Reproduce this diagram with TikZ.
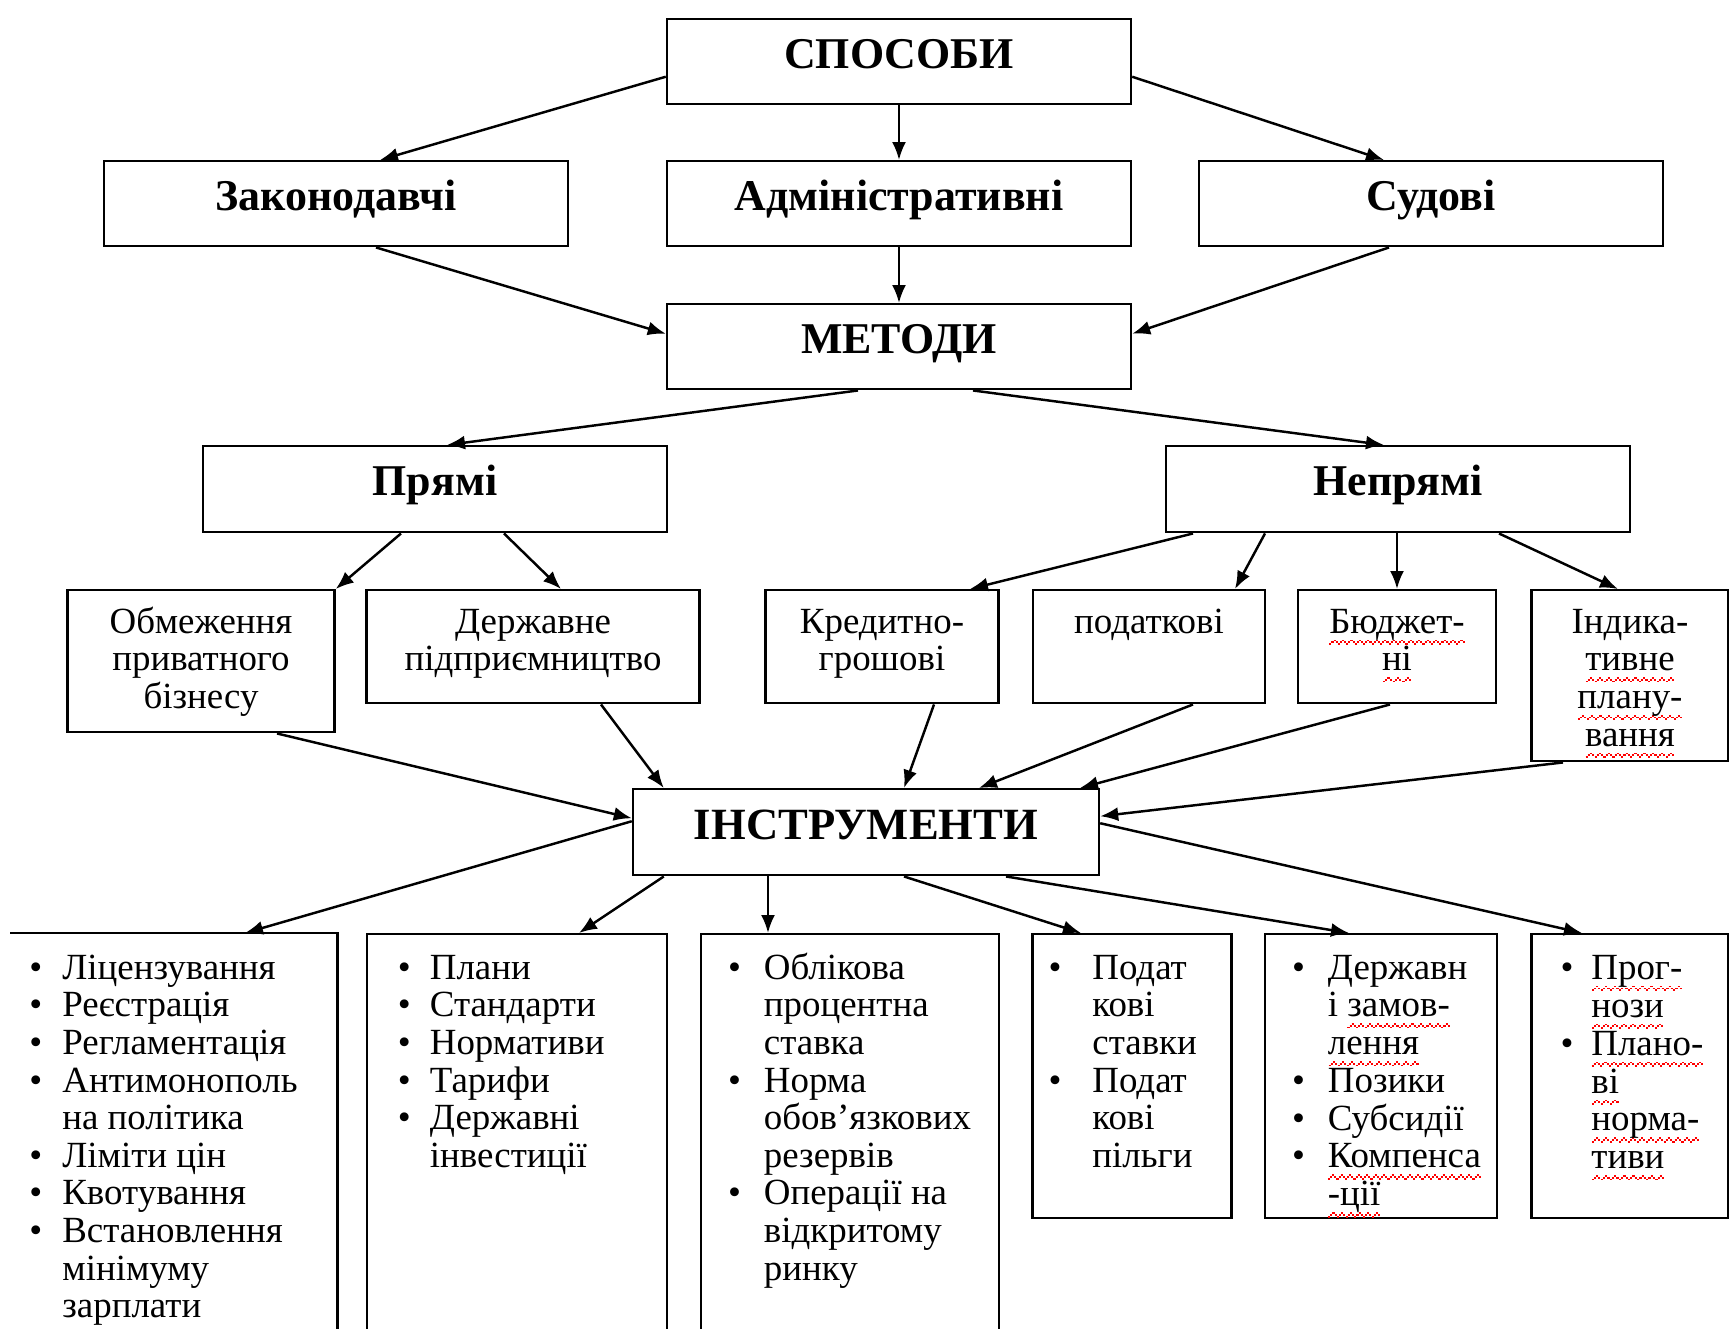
\documentclass[tikz,border=0pt]{standalone}
\usepackage{fontspec}
\setmainfont{Liberation Serif}
\usetikzlibrary{arrows.meta,calc}

\newcommand{\wavebit}{\hbox{%
    \raisebox{-3.3pt}{\rule{0.6pt}{0.45pt}}\raisebox{-2.8pt}{\rule{0.6pt}{0.45pt}}%
    \raisebox{-2.3pt}{\rule{0.6pt}{0.45pt}}\raisebox{-2.8pt}{\rule{0.6pt}{0.45pt}}}}
\newcommand{\spell}[1]{\leavevmode\setbox0\hbox{#1}%
    \rlap{\hbox to \wd0{\color{red}\xleaders\wavebit\hfill}}\box0}
\newcommand{\boxtext}[4]{\parbox[c][#2mm][t]{#1mm}{\centering\rule{0pt}{#3mm}#4}}
\newcommand{\listtext}[5]{\parbox[c][#2mm][t]{#1mm}{\rule{0pt}{4.5mm}\hspace*{#3mm}%
    \begin{tabular}[t]{@{}c@{\hspace{#4mm}}l@{}}#5\end{tabular}}}

\tikzset{x=0.1mm, y=-0.1mm,
    headbox/.style={draw, line width=0.7pt, anchor=north, inner sep=0pt,
        font=\bfseries\fontsize{12.5}{14}\selectfont},
    subbox/.style={draw, line width=0.7pt, anchor=north, inner sep=0pt,
        font=\fontsize{10.5}{10.7}\selectfont},
    arr/.style={line width=0.7pt, -{Latex[length=1.8mm,width=1.4mm]}},
    }

\begin{document}
\begin{tikzpicture}
	\useasboundingbox (0,0) rectangle (1729,1329);
	\clip (0,0) rectangle (1729,1329);
	% ways
	\node[headbox] (sposoby) at (899,18) {\boxtext{46.4}{8.5}{4.9}{СПОСОБИ}};
	\node[headbox] (zakon) at (336,160) {\boxtext{46.4}{8.5}{4.9}{Законодавчі}};
	\node[headbox] (admin) at (899,160) {\boxtext{46.4}{8.5}{4.9}{Адміністративні}};
	\node[headbox] (sud) at (1431,160) {\boxtext{46.4}{8.5}{4.9}{Судові}};
	% methods
	\node[headbox] (metody) at (899,303) {\boxtext{46.4}{8.5}{4.9}{МЕТОДИ}};
	\node[headbox] (pryami) at (435,445) {\boxtext{46.4}{8.6}{4.9}{Прямі}};
	\node[headbox] (nepryami) at (1398,445) {\boxtext{46.4}{8.6}{4.9}{Непрямі}};
	\node[subbox] (obmezh) at (201,589) {\boxtext{26.7}{14.2}{4.3}{Обмеження\\приватного\\бізнесу}};
	\node[subbox] (derzhPidpr) at (533,589) {\boxtext{33.3}{11.3}{4.3}{Державне\\підприємництво}};
	\node[subbox] (kredyt) at (882,589) {\boxtext{23.3}{11.3}{4.3}{Кредитно-\\грошові}};
	\node[subbox] (podatk) at (1149,589) {\boxtext{23.2}{11.3}{4.3}{податкові}};
	\node[subbox] (budzh) at (1397,589) {\boxtext{19.8}{11.3}{4.3}{\spell{Бюджет-}\\\spell{ні}}};
	\node[subbox] (indyk) at (1630,589) {\boxtext{19.7}{17.1}{4.3}{Індика-\\\spell{тивне}\\\spell{плану-}\\\spell{вання}}};
	% tools
	\node[headbox, font=\bfseries\fontsize{12.7}{15}\selectfont] (instr) at (866,788)
		{\boxtext{46.6}{8.6}{5.0}{ІНСТРУМЕНТИ}};
	\node[subbox, draw=none] (list1) at (174,933) {\listtext{32.5}{45}{1.8}{2.0}{%
		\textbullet & Ліцензування\\
		\textbullet & Реєстрація\\
		\textbullet & Регламентація\\
		\textbullet & Антимонополь\\
		            & на політика\\
		\textbullet & Ліміти цін\\
		\textbullet & Квотування\\
		\textbullet & Встановлення\\
		            & мінімуму\\
		            & зарплати}};
	\node[subbox] (list2) at (517,933) {\listtext{30.0}{45}{3.1}{1.9}{%
		\textbullet & Плани\\
		\textbullet & Стандарти\\
		\textbullet & Нормативи\\
		\textbullet & Тарифи\\
		\textbullet & Державні\\
		            & інвестиції}};
	\node[subbox] (list3) at (850,933) {\listtext{29.8}{45}{2.7}{2.3}{%
		\textbullet & Облікова\\
		            & процентна\\
		            & ставка\\
		\textbullet & Норма\\
		            & обов’язкових\\
		            & резервів\\
		\textbullet & Операції на\\
		            & відкритому\\
		            & ринку}};
	\node[subbox] (list4) at (1132,933) {\listtext{19.9}{28.4}{1.6}{3.1}{%
		\textbullet & Подат\\
		            & кові\\
		            & ставки\\
		\textbullet & Подат\\
		            & кові\\
		            & пільги}};
	\node[subbox] (list5) at (1381,933) {\listtext{23.2}{28.4}{2.7}{2.3}{%
		\textbullet & Державн\\
		            & і \spell{замов-}\\
		            & \spell{лення}\\
		\textbullet & Позики\\
		\textbullet & Субсидії\\
		\textbullet & \spell{Компенса}\\
		            & \spell{-ції}}};
	\node[subbox] (list6) at (1630,933) {\listtext{19.7}{28.4}{2.9}{1.8}{%
		\textbullet & \spell{Прог-}\\
		            & \spell{нози}\\
		\textbullet & \spell{Плано-}\\
		            & \spell{ві}\\
		            & \spell{норма-}\\
		            & \spell{тиви}}};
	\draw[line width=0.7pt] (list1.north west) -- (list1.north east) -- (list1.south east);

	\draw[arr] ($(sposoby.west)+(0,15)$) -- ($(zakon.north)+(44,0)$);
	\draw[arr] (sposoby.south) -- (admin.north);
	\draw[arr] ($(sposoby.east)+(0,15)$) -- ($(sud.north)+(-47,0)$);
	\draw[arr] ($(zakon.south)+(40,0)$) -- ($(metody.west)+(0,-13)$);
	\draw[arr] (admin.south) -- (metody.north);
	\draw[arr] ($(sud.south)+(-42,0)$) -- ($(metody.east)+(0,-13)$);
	\draw[arr] ($(metody.south)+(-41,0)$) -- ($(pryami.north)+(12,0)$);
	\draw[arr] ($(metody.south)+(74,0)$) -- ($(nepryami.north)+(-14,0)$);
	\draw[arr] ($(pryami.south)+(-34,0)$) -- (obmezh.north east);
	\draw[arr] ($(pryami.south)+(69,0)$) -- ($(derzhPidpr.north)+(28,0)$);
	\draw[arr] ($(nepryami.south)+(-205,0)$) -- ($(kredyt.north)+(88,0)$);
	\draw[arr] ($(nepryami.south)+(-133,0)$) -- ($(podatk.north)+(86,0)$);
	\draw[arr] (nepryami.south -| budzh.north) -- (budzh.north);
	\draw[arr] ($(nepryami.south)+(101,0)$) -- ($(indyk.north)+(-12,0)$);
	\draw[arr] ($(obmezh.south)+(76,0)$) -- ($(instr.west)+(0,-14)$);
	\draw[arr] ($(derzhPidpr.south)+(68,0)$) -- ($(instr.north west)+(32,0)$);
	\draw[arr] ($(kredyt.south)+(52,0)$) -- ($(instr.north)+(38,0)$);
	\draw[arr] ($(podatk.south)+(44,0)$) -- ($(instr.north)+(113,0)$);
	\draw[arr] ($(budzh.south)+(-7,0)$) -- ($(instr.north)+(214,0)$);
	\draw[arr] ($(indyk.south)+(-67,0)$) -- ($(instr.east)+(0,-16)$);
	\draw[arr] ($(instr.west)+(0,-11)$) -- ($(list1.north)+(71,0)$);
	\draw[arr] ($(instr.south west)+(32,0)$) -- ($(list2.north)+(62,0)$);
	\draw[arr] ($(instr.south)+(-98,0)$) -- ($(list3.north)+(-82,0)$);
	\draw[arr] ($(instr.south)+(38,0)$) -- ($(list4.north)+(-51,0)$);
	\draw[arr] ($(instr.south)+(140,0)$) -- ($(list5.north)+(-32,0)$);
	\draw[arr] ($(instr.east)+(0,-9)$) -- ($(list6.north)+(-48,0)$);
\end{tikzpicture}
\end{document}
